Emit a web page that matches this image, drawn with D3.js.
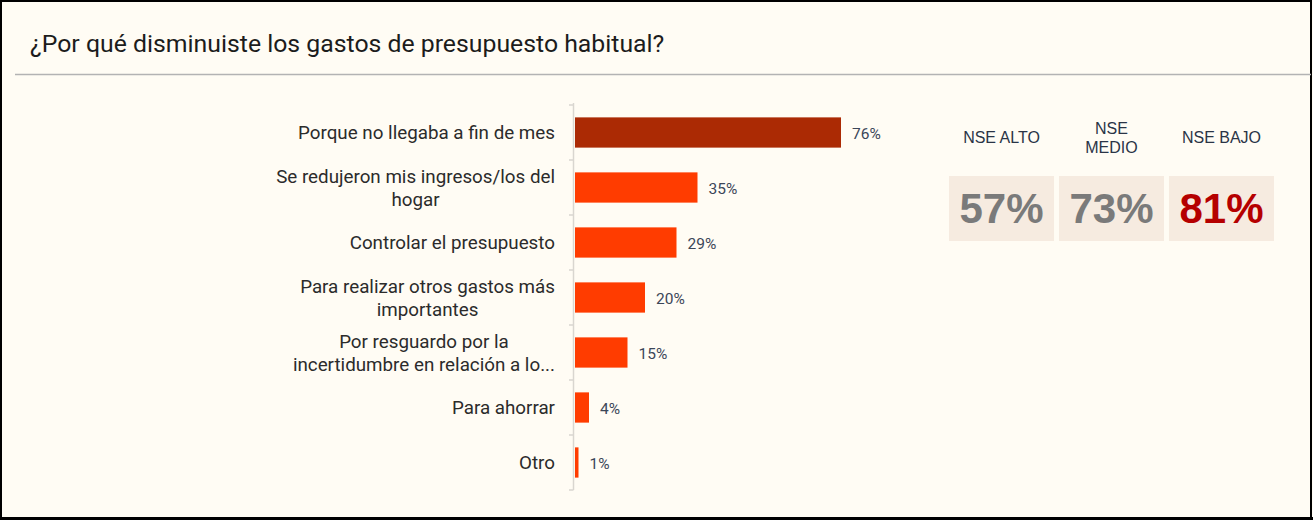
<!DOCTYPE html>
<html lang="es">
<head>
    <meta charset="UTF-8">
    <title>¿Por qué disminuiste los gastos de presupuesto habitual?</title>
    <style>
        html, body { margin: 0; padding: 0; background: #fffcf4; }
        svg { display: block; }
        .cat { font-family: Roboto, sans-serif; font-size: 18.8px; fill: #2b2b2b; }
        .val { font-family: Roboto, sans-serif; font-size: 15.5px; fill: #3b4658; }
        .nse-head { font-family: "Liberation Sans", Arial, sans-serif; font-size: 16px; fill: #2a3446; }
        .nse-val { font-family: "Liberation Sans", Arial, sans-serif; font-size: 42px; font-weight: bold; }
    </style>
</head>
<body>
    <svg width="1313" height="520"></svg>

    <script src="https://d3js.org/d3.v7.min.js"></script>
    <script>
        const width = 1313, height = 520;

        // bar chart data
        const categories = [
            "Porque no llegaba a fin de mes",
            "Se redujeron mis ingresos/los del\nhogar",
            "Controlar el presupuesto",
            "Para realizar otros gastos más\nimportantes",
            "Por resguardo por la\nincertidumbre en relación a lo...",
            "Para ahorrar",
            "Otro"
        ];
        const values = [0.76, 0.35, 0.29, 0.20, 0.15, 0.04, 0.01];

        // NSE panel data
        const nseGroups = ["NSE ALTO", "NSE\nMEDIO", "NSE BAJO"];
        const nseValues = [0.57, 0.73, 0.81];

        const svg = d3.select("svg");

        // frame
        svg.append("rect")
            .attr("x", 1).attr("y", 1)
            .attr("width", width - 3).attr("height", height - 3)
            .attr("fill", "#fffcf4")
            .attr("stroke", "#000")
            .attr("stroke-width", 2);
        svg.append("rect")
            .attr("x", 0).attr("y", 517)
            .attr("width", width).attr("height", 3)
            .attr("fill", "#000");

        // title
        svg.append("text")
            .attr("x", 30).attr("y", 52)
            .style("font-family", "Roboto, sans-serif")
            .style("font-size", "24.8px")
            .style("fill", "#1c1c1c")
            .text("¿Por qué disminuiste los gastos de presupuesto habitual?");

        svg.append("line")
            .attr("x1", 15).attr("x2", 1311)
            .attr("y1", 74.5).attr("y2", 74.5)
            .attr("stroke", "#b3b3b3")
            .attr("stroke-width", 1.5);

        // scales
        const y = d3.scaleBand()
            .domain(categories)
            .range([105, 490])
            .paddingInner(0.45)
            .paddingOuter(0.225);

        const x = d3.scaleLinear()
            .domain([0, 1])
            .range([575, 925]);

        // axis line with ticks at band boundaries
        const g = svg.append("g");
        g.append("line")
            .attr("x1", 573.5).attr("x2", 573.5)
            .attr("y1", 103).attr("y2", 490)
            .attr("stroke", "#d9d6d0")
            .attr("stroke-width", 1.5);

        const step = y.step();
        const bounds = d3.range(categories.length + 1).map(i => 105 + i * step);
        g.selectAll(".tick")
            .data(bounds)
            .enter().append("line")
            .attr("x1", 569).attr("x2", 573.5)
            .attr("y1", d => d).attr("y2", d => d)
            .attr("stroke", "#d9d6d0")
            .attr("stroke-width", 1.5);

        // bars
        svg.selectAll(".bar")
            .data(values)
            .enter().append("rect")
            .attr("x", x(0))
            .attr("y", (d, i) => y(categories[i]))
            .attr("width", d => x(d) - x(0))
            .attr("height", y.bandwidth())
            .attr("fill", (d, i) => i === 0 ? "#ab2a04" : "#ff3c00");

        // value labels
        svg.selectAll(".val")
            .data(values)
            .enter().append("text")
            .attr("class", "val")
            .attr("x", d => x(d) + 11)
            .attr("y", (d, i) => y(categories[i]) + y.bandwidth() / 2 + 6)
            .text(d => Math.round(d * 100) + "%");

        // category labels: wrapped labels are centred as a block whose right edge sits at 555
        const labelRight = 555;
        const cats = svg.selectAll(".cat")
            .data(categories)
            .enter().append("text")
            .attr("class", "cat")
            .attr("y", d => y(d) + y.bandwidth() / 2 + 6.5);

        cats.each(function(d) {
            const lines = d.split("\n");
            const lh = 23;
            const t = d3.select(this);
            const spans = lines.map((ln, i) => t.append("tspan")
                .attr("dy", i === 0 ? -(lines.length - 1) * lh / 2 : lh)
                .text(ln));
            if (lines.length === 1) {
                t.attr("text-anchor", "end");
                spans[0].attr("x", labelRight);
            } else {
                const maxW = d3.max(spans, s => s.node().getComputedTextLength());
                t.attr("text-anchor", "middle");
                spans.forEach(s => s.attr("x", labelRight - maxW / 2));
            }
        });

        // NSE panel
        const nx = d3.scaleBand()
            .domain(nseGroups)
            .range([949, 1274])
            .paddingInner(0.045);

        svg.selectAll(".nse-box")
            .data(nseGroups)
            .enter().append("rect")
            .attr("x", d => nx(d))
            .attr("y", 176)
            .attr("width", nx.bandwidth())
            .attr("height", 65)
            .attr("fill", "#f6ebe0");

        svg.selectAll(".nse-val")
            .data(nseValues)
            .enter().append("text")
            .attr("class", "nse-val")
            .attr("text-anchor", "middle")
            .attr("x", (d, i) => nx(nseGroups[i]) + nx.bandwidth() / 2)
            .attr("y", 223)
            .style("fill", (d, i) => i === 2 ? "#b50000" : "#7a7a7a")
            .text(d => Math.round(d * 100) + "%");

        const heads = svg.selectAll(".nse-head")
            .data(nseGroups)
            .enter().append("text")
            .attr("class", "nse-head")
            .attr("text-anchor", "middle")
            .attr("y", 143);

        heads.each(function(d) {
            const lines = d.split("\n");
            const cx = nx(d) + nx.bandwidth() / 2;
            const t = d3.select(this);
            lines.forEach((ln, i) => {
                t.append("tspan")
                    .attr("x", cx)
                    .attr("dy", i === 0 ? -(lines.length - 1) * 19 / 2 : 19)
                    .text(ln);
            });
        });
    </script>
</body>
</html>
